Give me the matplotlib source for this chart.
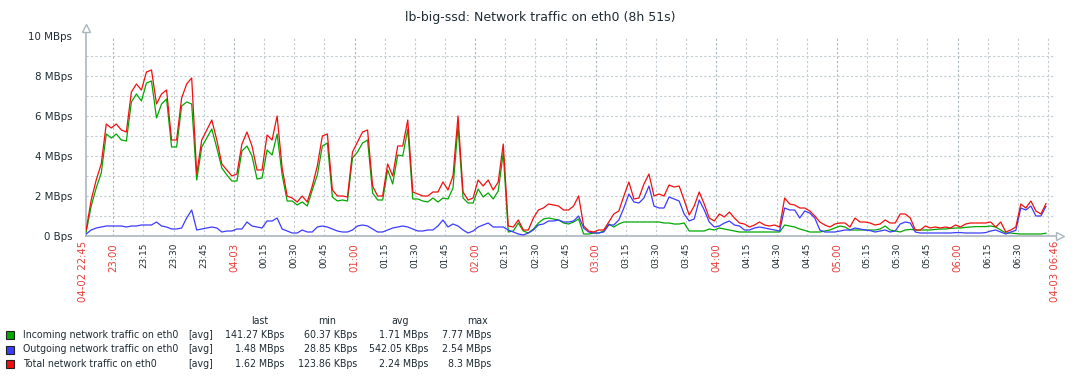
import numpy as np
import matplotlib
matplotlib.use('Agg')
import matplotlib.pyplot as plt
from matplotlib.patches import Rectangle

title = 'lb-big-ssd: Network traffic on eth0 (8h 51s)'

# samples every 2.5 minutes, first one 1.5 min after 04-02 22:45 (MBps)
t_first = 1.5
t_step = 2.5

total = [
    0.3, 1.8, 2.8, 3.6, 5.6, 5.4, 5.6, 5.3, 5.2, 7.2,
    7.6, 7.3, 8.2, 8.3, 6.6, 7.1, 7.3, 4.8, 4.8, 6.9,
    7.6, 7.9, 3.1, 4.8, 5.3, 5.8, 4.8, 3.6, 3.3, 3.0,
    3.1, 4.6, 5.2, 4.5, 3.3, 3.3, 5.05, 4.8, 6.0, 3.4,
    2.0, 1.9, 1.7, 2.0, 1.7, 2.5, 3.5, 5.0, 5.1, 2.3,
    2.0, 2.0, 1.95, 4.2, 4.7, 5.2, 5.3, 2.5, 2.0, 2.0,
    3.6, 3.0, 4.5, 4.5, 5.8, 2.2, 2.1, 2.0, 2.0, 2.2,
    2.2, 2.7, 2.3, 3.0, 6.0, 2.2, 1.8, 1.9, 2.8, 2.5,
    2.8, 2.3, 2.7, 4.6, 0.5, 0.45, 0.8, 0.3, 0.3, 0.9,
    1.3, 1.4, 1.6, 1.55, 1.5, 1.3, 1.3, 1.5, 2.0, 0.5,
    0.25, 0.2, 0.3, 0.3, 0.7, 1.1, 1.25, 2.0, 2.7, 1.85,
    1.9, 2.6, 3.1, 2.0, 2.1, 2.0, 2.55, 2.45, 2.5, 1.8,
    1.05, 1.5, 2.2, 1.6, 0.9, 0.75, 1.1, 0.95, 1.2, 0.9,
    0.65, 0.6, 0.45, 0.55, 0.7, 0.55, 0.5, 0.55, 0.45, 1.9,
    1.6, 1.55, 1.4, 1.4, 1.25, 1.0, 0.7, 0.55, 0.45, 0.6,
    0.65, 0.65, 0.45, 0.9, 0.7, 0.7, 0.65, 0.55, 0.6, 0.8,
    0.65, 0.65, 1.1, 1.1, 0.9, 0.3, 0.3, 0.5, 0.4, 0.45,
    0.4, 0.45, 0.4, 0.55, 0.45, 0.6, 0.65, 0.65, 0.65, 0.65,
    0.7, 0.45, 0.7, 0.2, 0.3, 0.45, 1.6, 1.4, 1.75, 1.25,
    1.1, 1.62,
]

outgoing = [
    0.1, 0.3, 0.4, 0.45, 0.5, 0.5, 0.5, 0.5, 0.45, 0.5,
    0.5, 0.55, 0.55, 0.55, 0.7, 0.5, 0.45, 0.35, 0.35, 0.4,
    0.9, 1.3, 0.3, 0.35, 0.4, 0.45, 0.4, 0.2, 0.25, 0.25,
    0.35, 0.35, 0.7, 0.5, 0.45, 0.4, 0.75, 0.75, 0.9, 0.35,
    0.25, 0.15, 0.15, 0.3, 0.2, 0.2, 0.45, 0.5, 0.45, 0.35,
    0.25, 0.2, 0.2, 0.3, 0.5, 0.55, 0.5, 0.35, 0.2, 0.2,
    0.3, 0.4, 0.45, 0.5, 0.45, 0.35, 0.25, 0.25, 0.3, 0.3,
    0.5, 0.8, 0.45, 0.6, 0.5, 0.3, 0.15, 0.25, 0.45, 0.55,
    0.65, 0.45, 0.45, 0.45, 0.3, 0.2, 0.1, 0.05, 0.15, 0.3,
    0.55, 0.6, 0.75, 0.75, 0.8, 0.7, 0.7, 0.75, 1.0, 0.4,
    0.2, 0.15, 0.15, 0.2, 0.55, 0.55, 0.8, 1.4, 2.1, 1.7,
    1.65, 1.9, 2.5, 1.5, 1.4, 1.4, 1.95, 1.85, 1.75, 1.1,
    0.75, 0.85, 1.8, 1.3, 0.7, 0.45, 0.5, 0.65, 0.75, 0.55,
    0.5, 0.3, 0.3, 0.4, 0.45, 0.4, 0.35, 0.3, 0.25, 1.4,
    1.3, 1.3, 0.9, 1.25, 1.15, 0.9, 0.3, 0.2, 0.2, 0.2,
    0.25, 0.3, 0.3, 0.4, 0.35, 0.3, 0.27, 0.2, 0.25, 0.3,
    0.2, 0.25, 0.6, 0.7, 0.65, 0.2, 0.15, 0.15, 0.15, 0.15,
    0.15, 0.15, 0.15, 0.17, 0.17, 0.15, 0.15, 0.15, 0.15, 0.17,
    0.25, 0.3, 0.2, 0.1, 0.2, 0.28, 1.4, 1.3, 1.5, 1.0,
    1.0, 1.48,
]

incoming = [
    0.2, 1.5, 2.4, 3.15, 5.1, 4.9, 5.1, 4.8, 4.75, 6.7,
    7.1, 6.75, 7.65, 7.75, 5.9, 6.6, 6.85, 4.45, 4.45, 6.5,
    6.7, 6.6, 2.8, 4.45, 4.9, 5.35, 4.4, 3.4, 3.05, 2.75,
    2.75, 4.25, 4.5, 4.0, 2.85, 2.9, 4.3, 4.05, 5.1, 3.05,
    1.75, 1.75, 1.55, 1.7, 1.5, 2.3, 3.05, 4.5, 4.65, 1.95,
    1.75, 1.8, 1.75, 3.9, 4.2, 4.65, 4.8, 2.15, 1.8, 1.8,
    3.3, 2.6, 4.05, 4.0, 5.35, 1.85, 1.85, 1.75, 1.7, 1.9,
    1.7, 1.9, 1.85, 2.4, 5.5, 1.9, 1.65, 1.65, 2.35, 1.95,
    2.15, 1.85, 2.25, 4.15, 0.2, 0.25, 0.65, 0.25, 0.15, 0.35,
    0.65, 0.85, 0.9, 0.85, 0.8, 0.65, 0.6, 0.7, 0.85, 0.1,
    0.1, 0.15, 0.15, 0.25, 0.6, 0.45, 0.6, 0.7, 0.7, 0.7,
    0.7, 0.7, 0.7, 0.7, 0.7, 0.65, 0.65, 0.6, 0.6, 0.65,
    0.25, 0.25, 0.25, 0.25, 0.35, 0.3, 0.4, 0.35, 0.3, 0.25,
    0.2, 0.2, 0.2, 0.2, 0.2, 0.2, 0.2, 0.2, 0.2, 0.55,
    0.5, 0.45, 0.35, 0.28, 0.2, 0.2, 0.2, 0.25, 0.3, 0.4,
    0.5, 0.45, 0.3, 0.3, 0.3, 0.3, 0.3, 0.3, 0.35, 0.5,
    0.3, 0.25, 0.2, 0.3, 0.33, 0.3, 0.3, 0.3, 0.3, 0.33,
    0.35, 0.35, 0.38, 0.4, 0.4, 0.43, 0.45, 0.47, 0.47, 0.47,
    0.5, 0.45, 0.3, 0.15, 0.15, 0.12, 0.1, 0.1, 0.1, 0.1,
    0.1, 0.14,
]

# x ticks: minutes after 22:45 (last gridline 06:45 carries no label)
tick_minutes = list(range(15, 481, 15))
tick_labels = ['23:00', '23:15', '23:30', '23:45', '04-03', '00:15', '00:30', '00:45',
               '01:00', '01:15', '01:30', '01:45', '02:00', '02:15', '02:30', '02:45',
               '03:00', '03:15', '03:30', '03:45', '04:00', '04:15', '04:30', '04:45',
               '05:00', '05:15', '05:30', '05:45', '06:00', '06:15', '06:30', '']
start_label = '04-02 22:45'
end_label = '04-03 06:46'
y_ticks = [0, 2, 4, 6, 8, 10]
y_labels = ['0 Bps', '2 MBps', '4 MBps', '6 MBps', '8 MBps', '10 MBps']

legend_names = ['Incoming network traffic on eth0', 'Outgoing network traffic on eth0',
                'Total network traffic on eth0']
stat_last = ['141.27 KBps', '1.48 MBps', '1.62 MBps']
stat_min = ['60.37 KBps', '28.85 KBps', '123.86 KBps']
stat_avg = ['1.71 MBps', '542.05 KBps', '2.24 MBps']
stat_max = ['7.77 MBps', '2.54 MBps', '8.3 MBps']

colors = ['#00a800', '#3c3cff', '#f01010']
text_col = '#1f2c33'
red_lbl = '#e8403c'
axis_col = '#aab6bd'
grid_col = '#c3ccd2'
grid_major = '#a9b5bc'

W, H = 1082, 382
fig = plt.figure(figsize=(W / 100, H / 100), dpi=100)
fig.patch.set_facecolor('white')


def fx(x):
    return x / W


def fy(y):
    return 1 - y / H


x0, x1, ytop, ybot = 86, 1055, 36, 236
ax = fig.add_axes([fx(x0), fy(ybot), fx(x1 - x0), (ybot - ytop) / H])
ax.set_xlim(1.42, 483.5)
ax.set_ylim(0, 10)
for s in ax.spines.values():
    s.set_visible(False)

# grid
for yv in range(1, 10):
    ax.axhline(yv, color=grid_col, lw=0.8, ls=(0, (2, 2)), zorder=0)
for tm in tick_minutes:
    ax.axvline(tm, color=grid_major if tm % 60 == 15 else grid_col, lw=0.8,
               ls=(0, (2, 2)), zorder=0)

times = t_first + t_step * np.arange(len(total))
ax.plot(times, incoming, color=colors[0], lw=0.9, zorder=3)
ax.plot(times, outgoing, color=colors[1], lw=0.9, zorder=4)
ax.plot(times, total, color=colors[2], lw=0.9, zorder=5)

# axis lines with open arrow heads
ax.plot([0, 0], [0, 1.035], transform=ax.transAxes, color=axis_col, lw=1.2, clip_on=False)
ax.plot([0, 1.003], [0, 0], transform=ax.transAxes, color=axis_col, lw=1.2, clip_on=False)
ax.plot([0], [1.04], transform=ax.transAxes, marker='^', ms=6, mfc='white',
        mec=axis_col, mew=1, clip_on=False)
ax.plot([1.005], [0], transform=ax.transAxes, marker='>', ms=6, mfc='white',
        mec=axis_col, mew=1, clip_on=False)

# y ticks
ax.set_yticks(y_ticks)
ax.set_yticklabels(y_labels, fontsize=7.4, color=text_col)
ax.tick_params(axis='y', length=0, pad=10)

# x ticks
ax.set_xticks(tick_minutes)
ax.set_xticklabels(tick_labels, rotation=90, va='top', ha='center')
ax.tick_params(axis='x', length=0, pad=5)
for lbl, txt in zip(ax.get_xticklabels(), tick_labels):
    if txt.endswith(':00') or '-' in txt:
        lbl.set_color(red_lbl)
        lbl.set_fontsize(7.3)
    else:
        lbl.set_color(text_col)
        lbl.set_fontsize(6.4)

fig.text(fx(83), fy(241), start_label, rotation=90, ha='center', va='top',
         fontsize=7.3, color=red_lbl)
fig.text(fx(1055), fy(241), end_label, rotation=90, ha='center', va='top',
         fontsize=7.3, color=red_lbl)

# title
fig.text(fx(540), fy(18), title, ha='center', va='center', fontsize=9, color=text_col)

# legend table
lg = dict(fontsize=7.6, color=text_col, family='DejaVu Sans', fontstretch='condensed')
fig.text(fx(260), fy(321), 'last', ha='center', va='center', **lg)
fig.text(fx(327), fy(321), 'min', ha='center', va='center', **lg)
fig.text(fx(400), fy(321), 'avg', ha='center', va='center', **lg)
fig.text(fx(478), fy(321), 'max', ha='center', va='center', **lg)
for i, name in enumerate(legend_names):
    yy = 335 + i * 14.5
    fig.patches.append(Rectangle((fx(6), fy(yy + 4)), 8 / W, 8 / H, transform=fig.transFigure,
                                 facecolor=colors[i], edgecolor='#222222', lw=0.8, figure=fig))
    fig.text(fx(23), fy(yy), name, ha='left', va='center', **lg)
    fig.text(fx(188), fy(yy), '[avg]', ha='left', va='center', **lg)
    fig.text(fx(284), fy(yy), stat_last[i], ha='right', va='center', **lg)
    fig.text(fx(357), fy(yy), stat_min[i], ha='right', va='center', **lg)
    fig.text(fx(428), fy(yy), stat_avg[i], ha='right', va='center', **lg)
    fig.text(fx(491), fy(yy), stat_max[i], ha='right', va='center', **lg)

fig.savefig('out.png', dpi=100)
